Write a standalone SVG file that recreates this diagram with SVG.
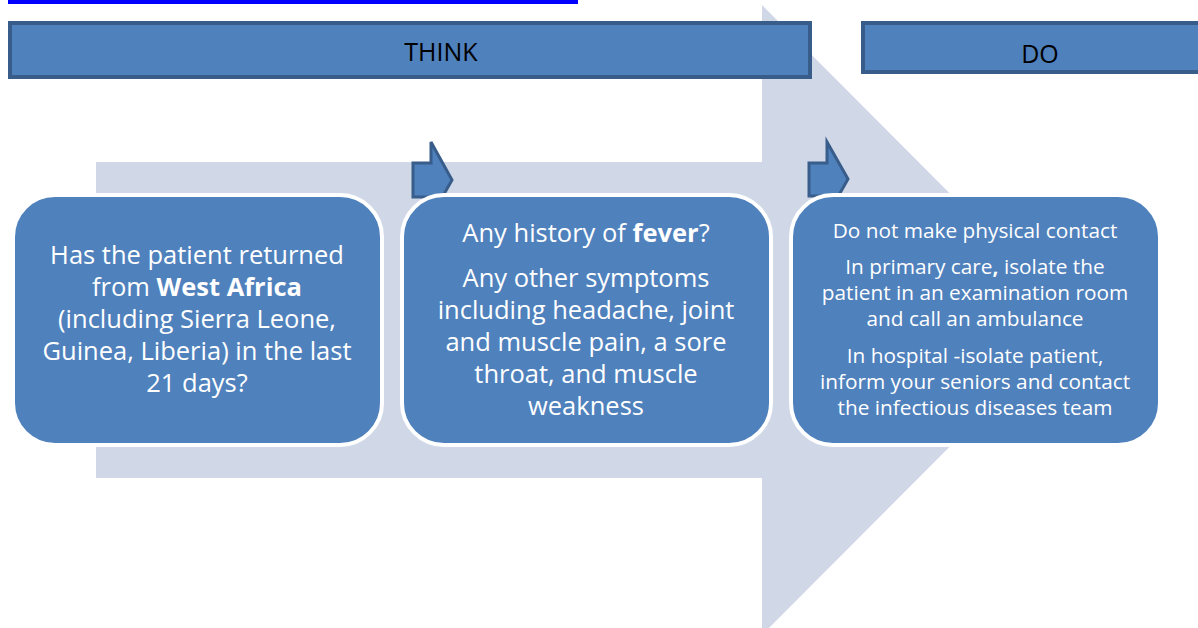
<svg xmlns="http://www.w3.org/2000/svg" width="1198" height="628" viewBox="0 0 1198 628">
<style>
.bar{fill:#4f81bd;stroke:#385d8a;stroke-width:4}
.node{fill:#4f81bd;stroke:#ffffff;stroke-width:4}
.chev{fill:#4f81bd;stroke:#385d8a;stroke-width:3;stroke-linejoin:miter}
.hdr{font-family:"Open Sans","Liberation Sans",sans-serif;font-size:25px;fill:#000;text-anchor:middle}
.t1{font-family:"Open Sans","Liberation Sans",sans-serif;font-size:25.5px;fill:#fff;text-anchor:middle}
.t3{font-family:"Open Sans","Liberation Sans",sans-serif;font-size:20.8px;fill:#fff;text-anchor:middle}
</style>
<rect width="1198" height="628" fill="#ffffff"/>
<rect x="8" y="0" width="570" height="4" fill="#0000ff"/>
<g id="background-arrow">
<path d="M96,162 H762 V5 L1076,320 L762,635 V478 H96 Z" fill="#d0d8e8"/>
</g>
<g id="think">
<rect class="bar" x="10" y="23" width="800" height="54"/>
<text class="hdr" x="441" y="61">THINK</text>
</g>
<g id="do">
<rect class="bar" x="863" y="23" width="345" height="49"/>
<text class="hdr" x="1040" y="63">DO</text>
</g>
<g id="connectors">
<path class="chev" d="M413,163 H431 V142 L452,180 L431,217 V197 H413 Z"/>
<path class="chev" d="M809,163 H827 V142 L848,179 L827,216 V196 H809 Z"/>
</g>
<g id="node1">
<rect class="node" x="13" y="195" width="369" height="250" rx="42"/>
<text class="t1"><tspan x="197" y="264">Has the patient returned</tspan><tspan x="197" y="296">from <tspan font-weight="bold">West Africa</tspan></tspan><tspan x="197" y="328">(including Sierra Leone,</tspan><tspan x="197" y="360">Guinea, Liberia) in the last</tspan><tspan x="197" y="392">21 days?</tspan></text>
</g>
<g id="node2">
<rect class="node" x="402" y="195" width="369" height="250" rx="42"/>
<text class="t1"><tspan x="586" y="242">Any history of <tspan font-weight="bold">fever</tspan>?</tspan><tspan x="586" y="287">Any other symptoms</tspan><tspan x="586" y="319">including headache, joint</tspan><tspan x="586" y="351">and muscle pain, a sore</tspan><tspan x="586" y="383">throat, and muscle</tspan><tspan x="586" y="415">weakness</tspan></text>
</g>
<g id="node3">
<rect class="node" x="791" y="195" width="369" height="250" rx="42"/>
<text class="t3"><tspan x="975" y="238">Do not make physical contact</tspan><tspan x="975" y="274">In primary care<tspan font-weight="bold">,</tspan> isolate the</tspan><tspan x="975" y="300">patient in an examination room</tspan><tspan x="975" y="326">and call an ambulance</tspan><tspan x="975" y="363">In hospital -isolate patient,</tspan><tspan x="975" y="389">inform your seniors and contact</tspan><tspan x="975" y="415">the infectious diseases team</tspan></text>
</g>
</svg>
